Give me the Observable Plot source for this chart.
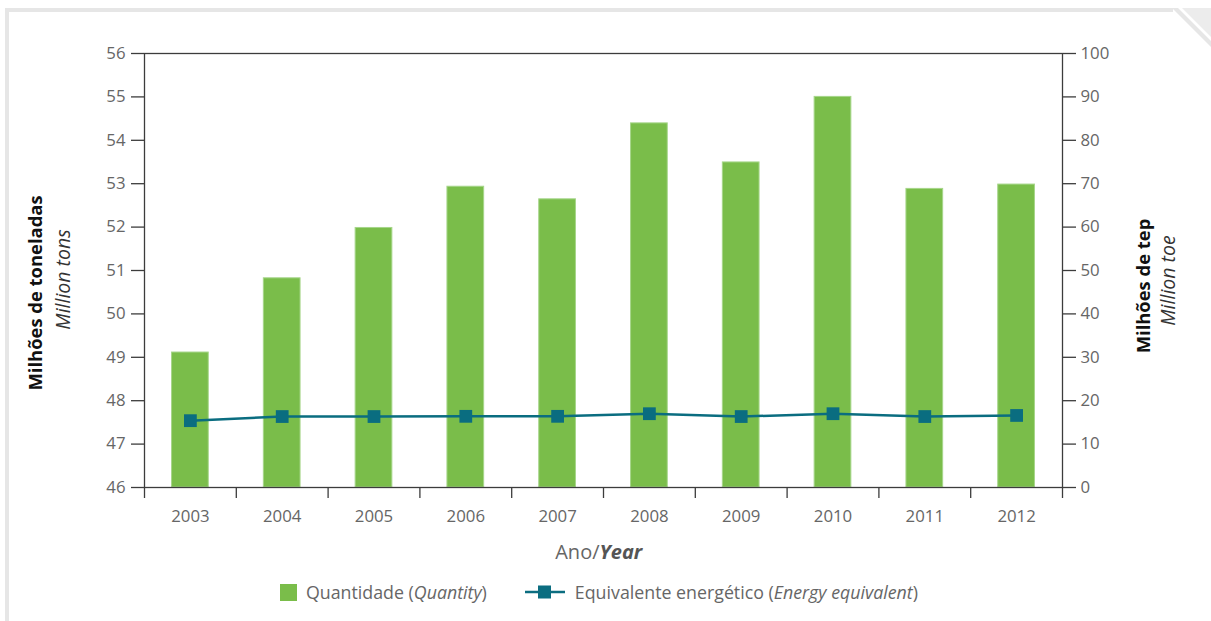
<!DOCTYPE html>
<html><head><meta charset="utf-8">
<script src="https://cdn.jsdelivr.net/npm/d3@7"></script>
<script src="https://cdn.jsdelivr.net/npm/@observablehq/plot@0.6"></script>
<style>
body{margin:0;background:#fff;font-family:"Open Sans",sans-serif;}
#wrap{position:relative;width:1211px;height:621px;overflow:hidden;background:#fff;}
#deco{position:absolute;left:0;top:0;pointer-events:none;}
#chart{position:absolute;left:0;top:0;}
#legend{position:absolute;left:280px;top:581px;height:22px;display:flex;align-items:center;font-size:17.8px;color:#666;white-space:nowrap;}
.item{display:flex;align-items:center;}
.sw{width:17px;height:17px;background:#7abd4a;margin-right:9px;}
</style></head><body>
<div id="wrap">
<svg id="deco" width="1211" height="621">
  <rect x="5" y="8" width="4" height="613" fill="#e6e6e6"/>
  <rect x="5" y="8" width="1168" height="4" fill="#e6e6e6"/>
  <polygon points="1172,8 1178,8 1211,41 1211,47" fill="#e6e6e6"/>
  <polygon points="1182,8 1211,8 1211,37" fill="#ececec"/>
</svg>
<div id="chart"></div>
<div id="legend">
  <div class="item"><div class="sw"></div><span>Quantidade (<i>Quantity</i>)</span></div>
  <div class="item" style="margin-left:38px;"><svg width="40" height="20" style="margin-right:10px"><line x1="0" y1="10" x2="40" y2="10" stroke="#0b6d80" stroke-width="2.5"/><rect x="13" y="3.5" width="13" height="13" fill="#0b6d80"/></svg><span>Equivalente energético (<i>Energy equivalent</i>)</span></div>
</div>
</div>
<script>
const years = [2003, 2004, 2005, 2006, 2007, 2008, 2009, 2010, 2011, 2012];
const quantity = [49.11, 50.82, 51.98, 52.93, 52.64, 54.39, 53.49, 55.0, 52.88, 52.98];
const energy = [15.4, 16.35, 16.35, 16.4, 16.4, 17.0, 16.35, 17.0, 16.35, 16.6];
const leftTicks = [46, 47, 48, 49, 50, 51, 52, 53, 54, 55, 56];
const rightTicks = [0, 10, 20, 30, 40, 50, 60, 70, 80, 90, 100];

const yMin = leftTicks[0];
const toLeft = v => yMin + v / 10;           // right axis (0–100) mapped onto left scale (46–56)
const data = years.map((y, i) => ({year: y, q: quantity[i], e: energy[i]}));
const bounds = years.map(y => y - 0.5).concat([years[years.length - 1] + 0.5]);

const axisColor = "#3c3c3c";
const textColor = "#666";
const font = '"Open Sans", sans-serif';

const chart = Plot.plot({
  width: 1211,
  height: 572,
  marginLeft: 144,
  marginRight: 149,
  marginTop: 53,
  marginBottom: 85,
  x: {type: "linear", domain: [bounds[0], bounds[bounds.length - 1]]},
  y: {domain: [leftTicks[0], leftTicks[leftTicks.length - 1]]},
  style: {fontFamily: font, fontSize: "16.8px", background: "transparent", color: textColor},
  marks: [
    Plot.rectY(data, {x1: d => d.year - 0.2, x2: d => d.year + 0.2, y1: () => yMin, y2: "q", fill: "#7abd4a", stroke: "#a6d68a", strokeWidth: 1}),
    Plot.line(data, {x: "year", y: d => toLeft(d.e), stroke: "#0a6d80", strokeWidth: 2.5}),
    Plot.dot(data, {x: "year", y: d => toLeft(d.e), symbol: "square", r: 7.2, fill: "#0a6d80", stroke: "none"}),
    Plot.frame({stroke: axisColor, strokeWidth: 1.3}),
    Plot.axisY(leftTicks, {anchor: "left", tickSize: 13, tickPadding: 6, stroke: axisColor, fill: textColor, label: null, strokeWidth: 1.3}),
    Plot.axisY(rightTicks.map(toLeft), {anchor: "right", tickSize: 13, tickPadding: 5, stroke: axisColor, fill: textColor, label: null, strokeWidth: 1.3,
      tickFormat: d => String(Math.round((d - yMin) * 10))}),
    Plot.axisX(bounds, {anchor: "bottom", tickSize: 11, tickFormat: () => "", stroke: axisColor, label: null, strokeWidth: 1.3}),
    Plot.axisX(years, {anchor: "bottom", tickSize: 0, tickPadding: 23, tickFormat: d => String(d), fill: textColor, label: null}),
    Plot.text(["Milhões de toneladas"], {frameAnchor: "left", textAnchor: "middle", lineAnchor: "middle", rotate: -90, dx: -108, dy: 22.5, fontWeight: "bold", fontSize: 18.4, fill: "#111"}),
    Plot.text(["Million tons"], {frameAnchor: "left", textAnchor: "middle", lineAnchor: "middle", rotate: -90, dx: -81, dy: 9, fontStyle: "italic", fontSize: 19.5, fill: "#333"}),
    Plot.text(["Milhões de tep"], {frameAnchor: "right", textAnchor: "middle", lineAnchor: "middle", rotate: -90, dx: 82, dy: 15.5, fontWeight: "bold", fontSize: 18.4, fill: "#111"}),
    Plot.text(["Million toe"], {frameAnchor: "right", textAnchor: "middle", lineAnchor: "middle", rotate: -90, dx: 106, dy: 10, fontStyle: "italic", fontSize: 19.5, fill: "#333"}),
    Plot.text(["Ano/"], {frameAnchor: "bottom", dx: -4, dy: 71, textAnchor: "end", fontSize: 20, fill: textColor}),
    Plot.text(["Year"], {frameAnchor: "bottom", dx: -4, dy: 71, textAnchor: "start", fontSize: 20, fontWeight: "bold", fontStyle: "italic", fill: "#555"})
  ]
});
document.getElementById("chart").appendChild(chart);
</script>
</body></html>
